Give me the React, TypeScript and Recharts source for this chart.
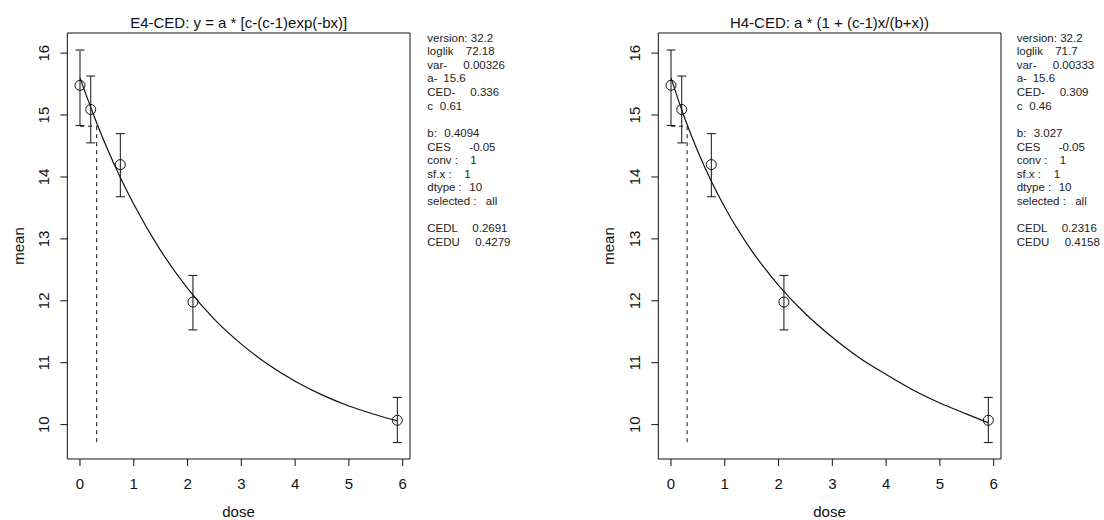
import React from 'react';
import {
  ComposedChart,
  XAxis,
  YAxis,
  Scatter,
  Line,
  ErrorBar,
  ReferenceLine,
  ReferenceArea,
} from 'recharts';

const doses = [0, 0.2, 0.75, 2.1, 5.9];
const means = [15.48, 15.09, 14.2, 11.98, 10.07];
const lowers = [14.83, 14.55, 13.68, 11.53, 9.71];
const uppers = [16.05, 15.63, 14.7, 12.41, 10.44];

// fitted curves
const curveDoses = [0, 0.25, 0.5, 0.75, 1, 1.5, 2, 2.5, 3, 3.5, 4, 4.5, 5, 5.5, 5.9];
const e4Curve = [15.6, 15.01, 14.47, 13.99, 13.56, 12.81, 12.2, 11.7, 11.3, 10.97, 10.7, 10.48, 10.3, 10.16, 10.06];
const h4Curve = [15.6, 14.96, 14.41, 13.93, 13.51, 12.81, 12.25, 11.79, 11.41, 11.08, 10.81, 10.56, 10.35, 10.17, 10.03];

const xTicks = [0, 1, 2, 3, 4, 5, 6];
const yTicks = [10, 11, 12, 13, 14, 15, 16];
const xDomain: [number, number] = [-0.236, 6.136];
const yDomain: [number, number] = [9.445, 16.325];

const cesLevel = 14.82;
const cedBottom = 9.7;
const cedE4 = 0.31;
const cedH4 = 0.3;

const titles = ['E4-CED: y = a * [c-(c-1)exp(-bx)]', 'H4-CED: a * (1 + (c-1)x/(b+x))'];
const xLabel = 'dose';
const yLabel = 'mean';

const infoE4: [string, string][] = [
  ['version: 32.2', ''],
  ['loglik', '72.18'],
  ['var-', '0.00326'],
  ['a-', '15.6'],
  ['CED-', '0.336'],
  ['c', '0.61'],
  ['', ''],
  ['b:', '0.4094'],
  ['CES', '-0.05'],
  ['conv :', '1'],
  ['sf.x :', '1'],
  ['dtype :', '10'],
  ['selected :', 'all'],
  ['', ''],
  ['CEDL', '0.2691'],
  ['CEDU', '0.4279'],
];
const infoH4: [string, string][] = [
  ['version: 32.2', ''],
  ['loglik', '71.7'],
  ['var-', '0.00333'],
  ['a-', '15.6'],
  ['CED-', '0.309'],
  ['c', '0.46'],
  ['', ''],
  ['b:', '3.027'],
  ['CES', '-0.05'],
  ['conv :', '1'],
  ['sf.x :', '1'],
  ['dtype :', '10'],
  ['selected :', 'all'],
  ['', ''],
  ['CEDL', '0.2316'],
  ['CEDU', '0.4158'],
];
const valueOffsets = [0, 38.5, 36, 16, 43, 12.5, 0, 17, 42, 43, 37, 42, 58.5, 0, 45, 48];

const FONT = '"Liberation Sans", Arial, sans-serif';
const INK = '#111';

const XTick = (props: any) => (
  <text x={props.x} y={488.5} textAnchor="middle" fontSize={15} fill={INK} fontFamily={FONT}>
    {props.payload.value}
  </text>
);

const YTick = (props: any) => (
  <text
    x={43.5}
    y={props.y}
    transform={`rotate(-90 43.5 ${props.y})`}
    textAnchor="middle"
    dominantBaseline="central"
    fontSize={15}
    fill={INK}
    fontFamily={FONT}
  >
    {props.payload.value}
  </text>
);

const OpenCircle = (props: any) => (
  <circle cx={props.cx} cy={props.cy} r={5} fill="none" stroke={INK} strokeWidth={1} />
);

function Panel({ left, curve, ced }: { left: number; curve: number[]; ced: number }) {
  const pts = doses.map((d, i) => ({
    x: d,
    y: means[i],
    err: [means[i] - lowers[i], uppers[i] - means[i]],
  }));
  const line = curveDoses.map((d, i) => ({ x: d, y: curve[i] }));
  return (
    <div style={{ position: 'absolute', left, top: 0 }}>
      <ComposedChart width={440} height={520} margin={{ top: 33, right: 30, bottom: 0, left: 0 }}>
        <XAxis
          type="number"
          dataKey="x"
          domain={xDomain}
          ticks={xTicks}
          allowDataOverflow
          axisLine={false}
          tickLine={{ stroke: INK }}
          tickSize={7}
          height={61}
          interval={0}
          tick={<XTick />}
        />
        <YAxis
          type="number"
          dataKey="y"
          domain={yDomain}
          ticks={yTicks}
          allowDataOverflow
          axisLine={false}
          tickLine={{ stroke: INK }}
          tickSize={7}
          width={67.3}
          interval={0}
          tick={<YTick />}
        />
        <ReferenceArea
          x1={xDomain[0]}
          x2={xDomain[1]}
          y1={yDomain[0]}
          y2={yDomain[1]}
          fill="none"
          fillOpacity={0}
          stroke={INK}
          strokeWidth={1}
          ifOverflow="visible"
        />
        <ReferenceLine
          segment={[
            { x: 0, y: cesLevel },
            { x: ced, y: cesLevel },
          ]}
          stroke={INK}
          strokeDasharray="4 4"
          ifOverflow="visible"
        />
        <ReferenceLine
          segment={[
            { x: ced, y: cesLevel },
            { x: ced, y: cedBottom },
          ]}
          stroke={INK}
          strokeDasharray="4 4"
          ifOverflow="visible"
        />
        <Line
          data={line}
          dataKey="y"
          type="monotone"
          dot={false}
          activeDot={false}
          stroke={INK}
          strokeWidth={1.2}
          isAnimationActive={false}
        />
        <Scatter data={pts} dataKey="y" shape={OpenCircle} isAnimationActive={false}>
          <ErrorBar dataKey="err" direction="y" width={4.5} stroke={INK} strokeWidth={1} isAnimationActive={false} />
        </Scatter>
      </ComposedChart>
    </div>
  );
}

function InfoBlock({ x, info }: { x: number; info: [string, string][] }) {
  return (
    <g>
      {info.map((row, i) =>
        row[0] ? (
          <text key={i} x={x} y={41.5 + i * 13.63} fontSize={11.5} fill="#222" fontFamily={FONT}>
            <tspan>{row[0]}</tspan>
            {row[1] ? <tspan x={x + valueOffsets[i]}>{row[1]}</tspan> : null}
          </text>
        ) : null
      )}
    </g>
  );
}

export default function App() {
  return (
    <div style={{ position: 'absolute', left: 0, top: 0, width: 1104, height: 520, background: '#fff' }}>
      <Panel left={0} curve={e4Curve} ced={cedE4} />
      <Panel left={590.7} curve={h4Curve} ced={cedH4} />
      <svg
        width={1104}
        height={520}
        style={{ position: 'absolute', left: 0, top: 0, pointerEvents: 'none' }}
      >
        <text x={238.7} y={28} textAnchor="middle" fontSize={15} fill={INK} fontFamily={FONT}>
          {titles[0]}
        </text>
        <text x={829.5} y={28} textAnchor="middle" fontSize={15} fill={INK} fontFamily={FONT}>
          {titles[1]}
        </text>
        <text x={238.5} y={517} textAnchor="middle" fontSize={15} fill={INK} fontFamily={FONT}>
          {xLabel}
        </text>
        <text x={829.5} y={517} textAnchor="middle" fontSize={15} fill={INK} fontFamily={FONT}>
          {xLabel}
        </text>
        <text x={23.5} y={246} transform="rotate(-90 23.5 246)" textAnchor="middle" fontSize={15} fill={INK} fontFamily={FONT}>
          {yLabel}
        </text>
        <text x={614.2} y={246} transform="rotate(-90 614.2 246)" textAnchor="middle" fontSize={15} fill={INK} fontFamily={FONT}>
          {yLabel}
        </text>
        <InfoBlock x={427.3} info={infoE4} />
        <InfoBlock x={1016.7} info={infoH4} />
      </svg>
    </div>
  );
}
